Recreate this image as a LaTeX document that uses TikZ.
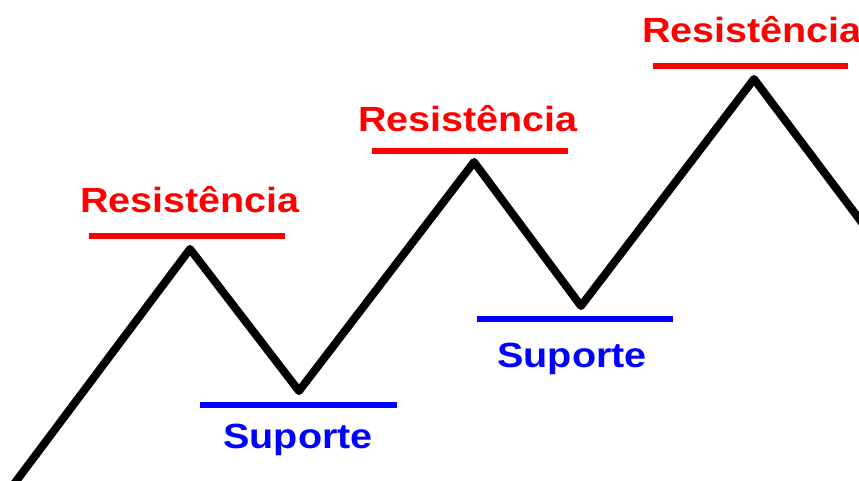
\documentclass[tikz,border=0pt]{standalone}
\usepackage{fontspec}
\setmainfont{Liberation Sans}
\begin{document}
\begin{tikzpicture}[x=1pt,y=-1pt,
  price/.style={line width=8pt,black,line join=round},
  reslevel/.style={line width=6pt,red},
  suplevel/.style={line width=6pt,blue},
  lbl/.style={anchor=base,inner sep=0pt,font=\fontsize{35}{40}\selectfont\bfseries},
  reslbl/.style={lbl,text=red},
  suplbl/.style={lbl,text=blue}]
\useasboundingbox (0,0) rectangle (859,481);
\clip (0,0) rectangle (859,481);
\coordinate (s) at (8,492);
\coordinate (p1) at (190,249);
\coordinate (t1) at (299,391);
\coordinate (p2) at (474,162);
\coordinate (t2) at (581,306);
\coordinate (p3) at (754,79);
\coordinate (e) at (872,236);
\draw[price] (s) -- (p1) -- (t1) -- (p2) -- (t2) -- (p3) -- (e);
\draw[reslevel] (89,235.5) -- (285,235.5);
\draw[reslevel] (372,151) -- (568,151);
\draw[reslevel] (653,66.5) -- (848,66.5);
\draw[suplevel] (200,405) -- (397,405);
\draw[suplevel] (477,318.5) -- (673,318.5);
\node[reslbl] (r1) at (190,212) {\scalebox{1.13}[1]{Resistência}};
\node[reslbl] (r2) at (468,132) {\scalebox{1.13}[1]{Resistência}};
\node[reslbl] (r3) at (752,43) {\scalebox{1.13}[1]{Resistência}};
\node[suplbl] (su1) at (298,448) {\scalebox{1.13}[1]{Suporte}};
\node[suplbl] (su2) at (572,367) {\scalebox{1.13}[1]{Suporte}};
\end{tikzpicture}
\end{document}
